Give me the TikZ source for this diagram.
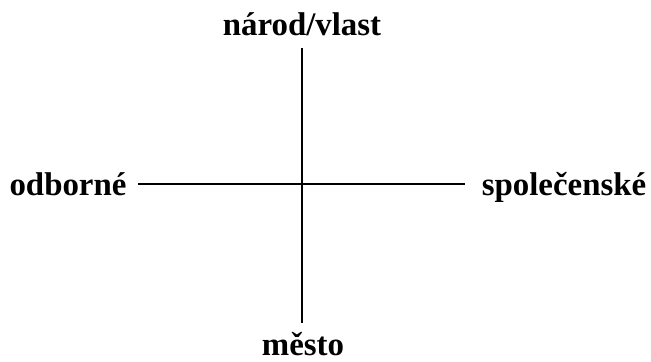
\documentclass[tikz,border=0pt]{standalone}
\usepackage{fontspec}
\setmainfont{Liberation Serif}
\begin{document}
\begin{tikzpicture}[x=1bp,y=1bp,
  lbl/.style={font=\bfseries\fontsize{33}{38}\selectfont, inner sep=0pt, anchor=base},
  axis/.style={line width=1.6bp, black}]
\useasboundingbox (0,0) rectangle (651,361);
\coordinate (top) at (302,313);
\coordinate (bot) at (302,38);
\coordinate (lft) at (138,177);
\coordinate (rgt) at (465,177);
\draw[axis] (top) -- (bot);
\draw[axis] (lft) -- (rgt);
\node[lbl] (n) at (302,326) {národ/vlast};
\node[lbl] (o) at (68,166) {odborné};
\node[lbl] (s) at (564,166) {společenské};
\node[lbl] (m) at (303,6) {město};
\end{tikzpicture}
\end{document}
